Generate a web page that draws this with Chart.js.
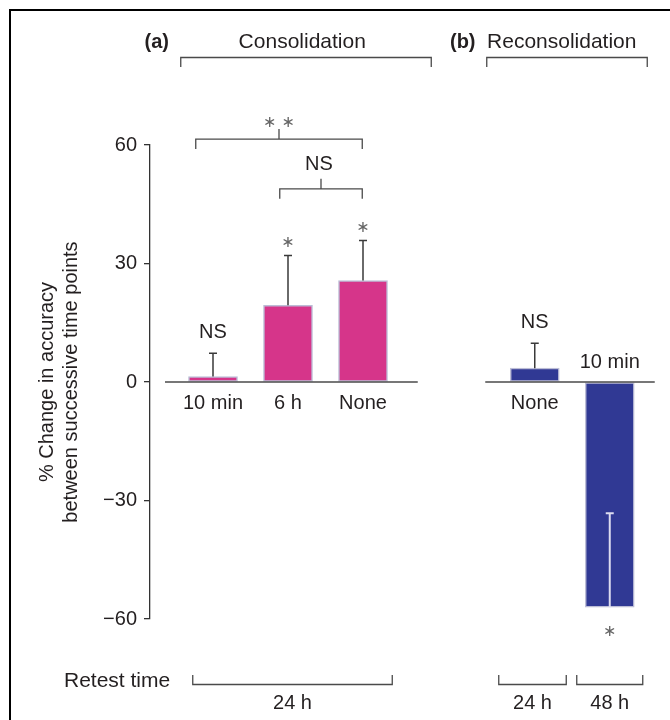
<!DOCTYPE html>
<html><head><meta charset="utf-8">
<script src="https://cdn.jsdelivr.net/npm/chart.js@4/dist/chart.umd.min.js"></script>
<style>html,body{margin:0;padding:0;background:#fff}#wrap{width:670px;height:720px;position:relative}canvas{display:block}</style>
</head><body><div id="wrap"><canvas id="c" width="670" height="720"></canvas></div>
<script>
// ---- data ----
const consolidationLabels = ['10 min', '6 h', 'None'];
const consolidationValues = [1.4, 19.4, 25.7];
const consolidationErrors = [5.9, 12.6, 10.1];
const consolidationMarks = ['NS', '*', '*'];
const reconsolidationLabels = ['None', '10 min'];
const reconsolidationValues = [3.5, -57.0];
const reconsolidationErrors = [6.3, 23.8];
const reconsolidationMarks = ['NS', '*'];
const retestLabels = ['24 h', '24 h', '48 h'];
const yTicks = [-60, -30, 0, 30, 60];
const panelTitles = ['Consolidation', 'Reconsolidation'];
const panelLetters = ['(a)', '(b)'];
const comparisonLabels = ['* *', 'NS'];
const comparisonLevels = [61.5, 48.9];

// ---- layout / style ----
const FONT = '"Liberation Sans", Arial, Helvetica, sans-serif';
const TXT = '#231f20';
const LINE = '#4a4a4a';
const PINK = '#d6358a';
const BLUE = '#303994';
const B_OFFSET = 4.29;
const bars = [
  ...consolidationValues.map((v, i) => ({ x: i, y: v, err: consolidationErrors[i], label: consolidationLabels[i], mark: consolidationMarks[i], color: PINK })),
  ...reconsolidationValues.map((v, i) => ({ x: i + B_OFFSET, y: v, err: reconsolidationErrors[i], label: reconsolidationLabels[i], mark: reconsolidationMarks[i], color: BLUE }))
];
const zeroSpans = [[-0.64, 2.73], [3.63, 5.89]];
const titleSpans = [[-0.43, 2.91], [3.65, 5.79]];
const titleCenters = [1.19, 4.65];
const letterCenters = [-0.75, 3.33];
const compSpans = [[-0.23, 1.99], [0.89, 1.99]];
const retestSpans = [[-0.27, 2.39], [3.81, 4.71], [4.85, 5.73]];

function text(ctx, s, x, y, opts = {}) {
  ctx.save();
  ctx.font = (opts.bold ? 'bold ' : '') + (opts.size || 20) + 'px ' + (opts.family || FONT);
  ctx.fillStyle = opts.color || TXT;
  ctx.textAlign = opts.align || 'center';
  ctx.textBaseline = 'middle';
  ctx.fillText(s, x, y);
  ctx.restore();
}
function star(ctx, s, x, y) {
  text(ctx, s.replace(/\*/g, '\u2217'), x, y, { size: 16, family: '"DejaVu Sans", sans-serif', color: '#666' });
}

const deco = {
  id: 'deco',
  afterDatasetsDraw(chart) {
    const ctx = chart.ctx;
    const X = v => chart.scales.x.getPixelForValue(v);
    const Y = v => chart.scales.y.getPixelForValue(v);
    ctx.save();
    // zero lines
    ctx.strokeStyle = LINE; ctx.lineWidth = 1.4;
    zeroSpans.forEach(([a, b]) => { ctx.beginPath(); ctx.moveTo(X(a), Y(0)); ctx.lineTo(X(b), Y(0)); ctx.stroke(); });
    // error bars, labels, marks
    bars.forEach(b => {
      const cx = X(b.x);
      const end = b.y + b.err;
      ctx.strokeStyle = b.y >= 0 ? '#3a3a3a' : '#dcdcf0';
      ctx.lineWidth = b.y >= 0 ? 1.5 : 2;
      ctx.beginPath();
      ctx.moveTo(cx, Y(b.y)); ctx.lineTo(cx, Y(end));
      ctx.moveTo(cx - 4, Y(end)); ctx.lineTo(cx + 4, Y(end));
      ctx.stroke();
      if (b.y >= 0) {
        text(ctx, b.label, cx, Y(0) + 21);
        if (b.mark === 'NS') text(ctx, b.mark, cx, Y(end) - 21);
        else star(ctx, b.mark, cx, Y(end) - 13);
      } else {
        text(ctx, b.label, cx, Y(0) - 20);
        star(ctx, b.mark, cx, Y(b.y) + 25);
      }
    });
    // comparison brackets
    ctx.strokeStyle = LINE; ctx.lineWidth = 1.3;
    compSpans.forEach(([a, b], i) => {
      const y = Y(comparisonLevels[i]);
      const x1 = X(a), x2 = X(b), xm = (x1 + x2) / 2;
      ctx.beginPath();
      ctx.moveTo(x1, y + 10); ctx.lineTo(x1, y); ctx.lineTo(x2, y); ctx.lineTo(x2, y + 10);
      ctx.moveTo(xm, y); ctx.lineTo(xm, y - 10);
      ctx.stroke();
      if (comparisonLabels[i] === 'NS') text(ctx, comparisonLabels[i], xm - 2, y - 24);
      else star(ctx, comparisonLabels[i], xm, y - 16);
    });
    // panel titles
    titleSpans.forEach(([a, b], i) => {
      const y = 57.5;
      ctx.beginPath();
      ctx.moveTo(X(a), y + 9.5); ctx.lineTo(X(a), y); ctx.lineTo(X(b), y); ctx.lineTo(X(b), y + 9.5);
      ctx.stroke();
      text(ctx, panelTitles[i], X(titleCenters[i]), 42, { size: 21 });
      text(ctx, panelLetters[i], X(letterCenters[i]), 42, { bold: true });
    });
    // retest row
    text(ctx, 'Retest time', 64, 681, { align: 'left', size: 21 });
    retestSpans.forEach(([a, b], i) => {
      const y = 684.5;
      ctx.beginPath();
      ctx.moveTo(X(a), y - 9.5); ctx.lineTo(X(a), y); ctx.lineTo(X(b), y); ctx.lineTo(X(b), y - 9.5);
      ctx.stroke();
      text(ctx, retestLabels[i], (X(a) + X(b)) / 2, 703);
    });
    // frame
    ctx.strokeStyle = '#000'; ctx.lineWidth = 2;
    ctx.beginPath(); ctx.moveTo(10, 722); ctx.lineTo(10, 10); ctx.lineTo(672, 10); ctx.stroke();
    ctx.restore();
  }
};

new Chart(document.getElementById('c').getContext('2d'), {
  type: 'bar',
  data: {
    datasets: [{
      data: bars.map(b => ({ x: b.x, y: b.y })),
      backgroundColor: bars.map(b => b.color),
      borderColor: '#bcbdd6',
      borderWidth: 1.5,
      borderSkipped: false,
      barThickness: 49
    }]
  },
  options: {
    responsive: false, animation: false, devicePixelRatio: 1,
    layout: { padding: { left: 0, right: 10, top: 145, bottom: 101 } },
    plugins: { legend: { display: false }, tooltip: { enabled: false } },
    scales: {
      x: { type: 'linear', display: false, offset: false, grid: { offset: false }, min: -0.84, max: 5.96 },
      y: {
        min: -60, max: 60,
        afterBuildTicks: s => { s.ticks = yTicks.map(v => ({ value: v })); },
        afterFit: s => { s.width = 150; },
        grid: { drawOnChartArea: false, drawTicks: true, tickLength: 6, color: '#333', lineWidth: 1.3 },
        border: { display: true, color: '#333', width: 1.3 },
        ticks: { padding: 7, color: TXT, font: { family: FONT, size: 20 }, callback: v => v < 0 ? '\u2212' + Math.abs(v) : String(v) },
        title: { display: true, text: ['% Change in accuracy', 'between successive time points'], color: TXT, font: { family: FONT, size: 20, lineHeight: 1.2 }, padding: { top: 35, bottom: 0 } }
      }
    }
  },
  plugins: [deco]
});
</script>
</body></html>
